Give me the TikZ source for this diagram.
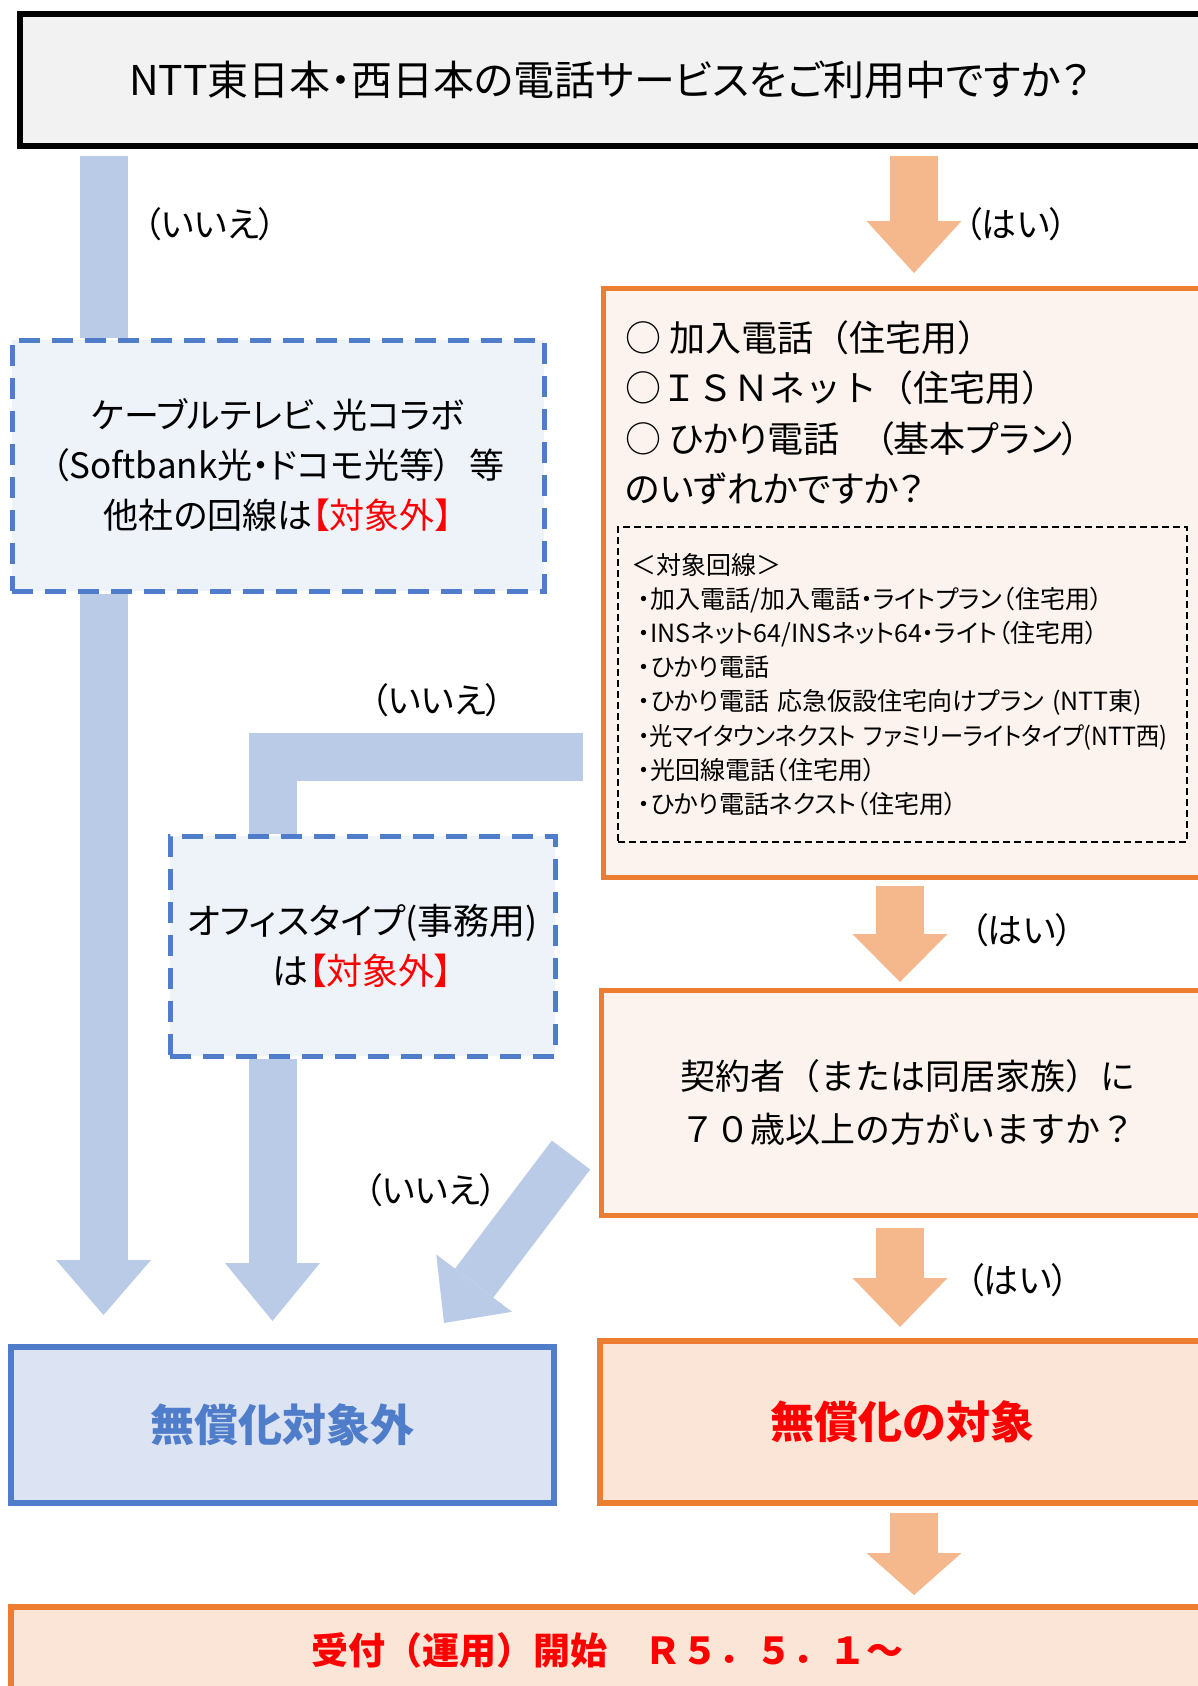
\documentclass[tikz,border=0pt]{standalone}
\usepackage{fontspec}
\setmainfont{Noto Sans CJK JP}[RawFeature=+palt]
\newfontfamily\fixjp{Noto Sans CJK JP}
\usetikzlibrary{arrows.meta,calc}
\definecolor{barblue}{RGB}{186,203,232}
\definecolor{lineblue}{RGB}{79,125,201}
\definecolor{paleblue}{RGB}{238,243,250}
\definecolor{noblue}{RGB}{220,228,243}
\definecolor{barorange}{RGB}{244,184,140}
\definecolor{lineorange}{RGB}{237,125,49}
\definecolor{paleorange}{RGB}{252,243,238}
\definecolor{yesorange}{RGB}{251,229,214}
\definecolor{titlegray}{RGB}{242,242,242}
\definecolor{ngred}{RGB}{255,0,0}
\newcommand{\fsz}[2]{\fontsize{#1}{#2}\selectfont}
\begin{document}
\begin{tikzpicture}[x=1pt, y=-1pt,
  every node/.style={inner sep=0pt, outer sep=0pt},
  askbox/.style={draw=lineorange, line width=5pt, fill=paleorange},
  outbox/.style={draw=lineblue, line width=5pt, dash pattern=on 21pt off 12pt, fill=paleblue},
  endbox/.style={line width=6pt, font=\bfseries\fsz{44pt}{50pt}},
  nobar/.style={draw=barblue, line width=48pt},
  yesbar/.style={draw=barorange, line width=48pt},
  blockhead/.style={-{Triangle[length=#1, width=95pt, line width=0pt]}},
  ans/.style={font=\fsz{35pt}{40pt}}]
  \useasboundingbox (0,0) rectangle (1198,1686);
  \clip (0,0) rectangle (1198,1686);
  \node[draw=black, line width=5.5pt, fill=titlegray, anchor=north west, minimum height=132pt,
        text width=1000pt, inner xsep=109pt, align=left, font=\fsz{41pt}{50pt}]
    (q1) at (20,14) {NTT東日本・西日本の電話サービスをご利用中ですか？};
  \node[askbox, anchor=north west, minimum width=640pt, minimum height=589pt] (q2) at (603,288) {};
  \node[anchor=west, align=left, font=\fsz{36pt}{50.5pt}] (q2txt) at (625,413)
    {{\fixjp ○ 加入電話（住宅用）}\\{\fixjp ○ＩＳＮネット（住宅用）}\\○ ひかり電話　（基本プラン）\\のいずれかですか？};
  \node[draw=black, line width=2pt, dash pattern=on 7pt off 4pt, anchor=north west, minimum height=315pt,
        text width=543pt, inner xsep=13pt, align=left, font=\fsz{25pt}{34.2pt}]
    (lines) at (618,527) {＜対象回線＞\\
      \hspace*{7pt}・加入電話/加入電話・ライトプラン（住宅用）\\
      \hspace*{7pt}・INSネット64/INSネット64・ライト（住宅用）\\
      \hspace*{7pt}・ひかり電話\\
      \hspace*{7pt}・ひかり電話 応急仮設住宅向けプラン (NTT東)\\
      \hspace*{7pt}\scalebox{0.93}[1]{・光マイタウンネクスト ファミリーライトタイプ(NTT西)}\\
      \hspace*{7pt}・光回線電話（住宅用）\\
      \hspace*{7pt}・ひかり電話ネクスト（住宅用）};
  \node[outbox, minimum width=532pt, minimum height=251pt, align=center, font=\fsz{35pt}{50pt}]
    (other) at (278,465.5) {ケーブルテレビ、光コラボ\\（Softbank光・ドコモ光等）\enspace 等\\他社の回線は\textcolor{ngred}{【対象外】}};
  \node[outbox, minimum width=385pt, minimum height=220pt, align=center, font=\fsz{36pt}{50pt}]
    (office) at (362.5,946) {オフィスタイプ(事務用)\\は\textcolor{ngred}{【対象外】}};
  \node[askbox, minimum width=614pt, minimum height=225pt, align=center, font=\fixjp\fsz{35pt}{53pt}]
    (q3) at (908,1102.5) {契約者（または同居家族）に\\７０歳以上の方がいますか？};
  \node[endbox, draw=lineblue, fill=noblue, minimum width=543pt, minimum height=156pt, text=lineblue]
    (no) at (282.5,1425) {無償化対象外};
  \node[endbox, draw=lineorange, fill=yesorange, minimum width=605pt, minimum height=162pt, text=ngred]
    (yes) at (902.5,1422) {無償化の対象};
  \node[endbox, draw=lineorange, fill=yesorange, minimum width=1192pt, minimum height=86pt, text=ngred,
        font=\fixjp\bfseries\fsz{37pt}{40pt}]
    (start) at (607,1650) {受付（運用）開始　Ｒ５．５．１～};
  \coordinate (lcol) at (103.5,0);
  \coordinate (mcol) at (272.5,0);
  \coordinate (rcol) at (914,0);
  \coordinate (ycol) at (900,0);
  \draw[nobar, shorten <=10pt, shorten >=2.5pt] (q1.south -| lcol) -- (other.north -| lcol);
  \draw[nobar, blockhead=55pt, shorten <=3pt, shorten >=32pt] (other.south -| lcol) -- (no.north -| lcol);
  \draw[nobar, shorten <=20pt, shorten >=2.5pt] ([yshift=120pt]q2.south west) -| (office.north -| mcol);
  \draw[nobar, blockhead=58pt, shorten <=3pt, shorten >=26pt] (office.south -| mcol) -- (no.north -| mcol);
  \draw[nobar, blockhead=50pt] ([xshift=-30pt,yshift=60pt]q3.south west) -- ([xshift=-110pt,yshift=24pt]no.north east);
  \draw[yesbar, blockhead=52pt, shorten <=10pt, shorten >=15pt] (q1.south -| rcol) -- (q2.north -| rcol);
  \draw[yesbar, blockhead=48pt, shorten <=9pt, shorten >=8pt] (q2.south -| ycol) -- (q3.north -| ycol);
  \draw[yesbar, blockhead=49pt, shorten <=13pt, shorten >=14pt] (q3.south -| ycol) -- (yes.north -| ycol);
  \draw[yesbar, blockhead=42pt, shorten <=10pt, shorten >=12pt] (yes.south -| rcol) -- (start.north -| rcol);
  \node[ans] (n1) at (210,224) {（いいえ）};
  \node[ans] (y1) at (1016,224) {（はい）};
  \node[ans] (n2) at (437,700) {（いいえ）};
  \node[ans] (y2) at (1022,930) {（はい）};
  \node[ans] (n3) at (431,1190) {（いいえ）};
  \node[ans] (y3) at (1018,1280) {（はい）};
\end{tikzpicture}
\end{document}
